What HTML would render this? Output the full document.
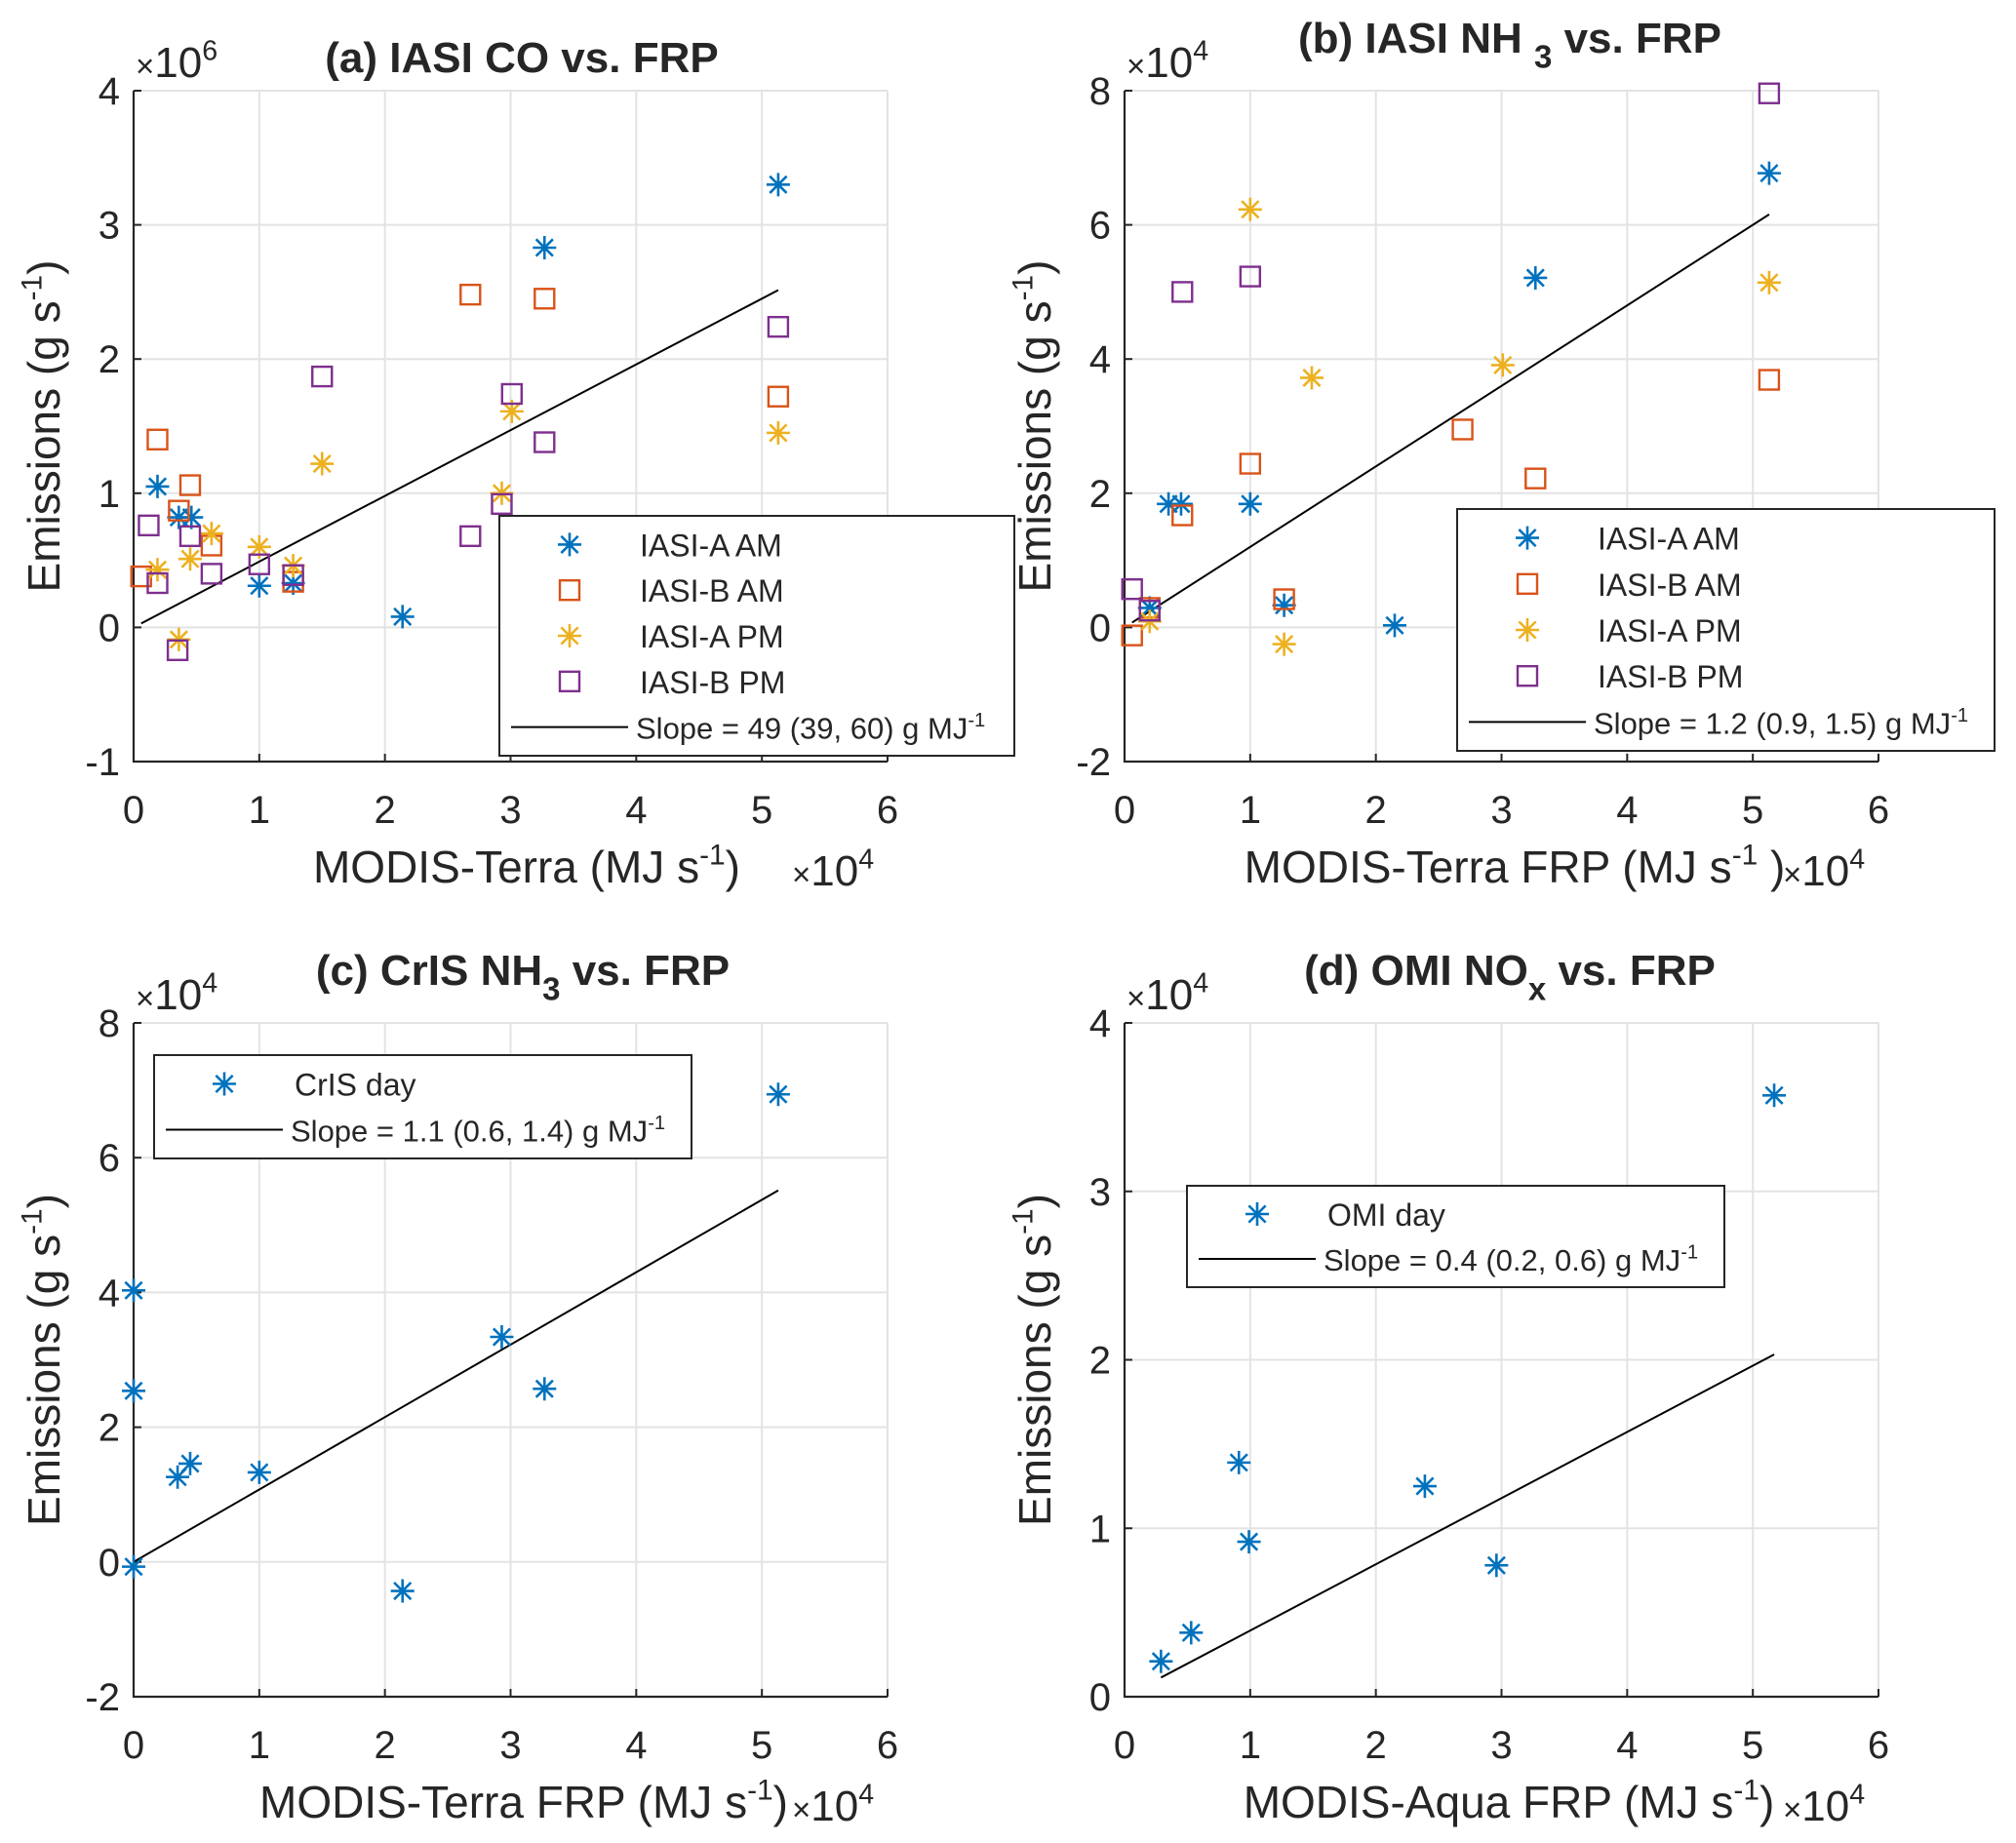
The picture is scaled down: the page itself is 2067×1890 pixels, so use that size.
<!DOCTYPE html>
<html><head><meta charset="utf-8"><style>
body{margin:0;background:#fff}
svg{display:block}
text{font-family:"Liberation Sans",Arial,sans-serif;fill:#262626}
</style></head><body>
<svg id="fig" width="2067" height="1890" viewBox="0 0 2067 1890" xmlns="http://www.w3.org/2000/svg"></svg>
<script>
// ---- Panel (a) data: x in 1e4 MJ/s, y in 1e6 g/s
const aAAMx=[0.19,0.36,0.46,1.0,1.27,2.14,3.27,5.13];
const aAAMy=[1.05,0.82,0.82,0.31,0.33,0.08,2.83,3.30];
const aBAMx=[0.06,0.19,0.36,0.45,0.62,1.27,2.68,3.27,5.13];
const aBAMy=[0.38,1.40,0.87,1.06,0.61,0.34,2.48,2.45,1.72];
const aAPMx=[0.19,0.36,0.45,0.62,1.0,1.27,1.50,2.93,3.01,5.13];
const aAPMy=[0.43,-0.09,0.51,0.70,0.60,0.46,1.22,1.0,1.61,1.45];
const aBPMx=[0.12,0.19,0.35,0.45,0.62,1.0,1.27,1.50,2.68,2.93,3.01,3.27,5.13];
const aBPMy=[0.76,0.33,-0.17,0.68,0.40,0.47,0.39,1.87,0.68,0.92,1.74,1.38,2.24];
const aFit=[0.06,5.13,0.49];
// ---- Panel (b) data: y in 1e4
const bAAMx=[0.2,0.35,0.45,1.0,1.27,2.15,3.27,5.13];
const bAAMy=[0.29,1.84,1.84,1.84,0.33,0.03,5.21,6.77];
const bBAMx=[0.06,0.2,0.46,1.0,1.27,2.69,3.27,5.13];
const bBAMy=[-0.12,0.29,1.67,2.44,0.42,2.95,2.22,3.69];
const bAPMx=[0.2,1.0,1.27,1.49,3.01,5.13];
const bAPMy=[0.09,6.23,-0.25,3.72,3.91,5.14];
const bBPMx=[0.06,0.2,0.46,1.0,5.13];
const bBPMy=[0.57,0.25,5.0,5.23,7.96];
const bFit=[0.06,5.13,1.2];
// ---- Panel (c)
const cX=[0,0,0,0.35,0.45,1.0,2.14,2.93,3.27,5.13];
const cY=[4.03,2.54,-0.07,1.26,1.46,1.33,-0.43,3.34,2.57,6.94];
const cFit=[0.0,5.13,1.075];
// ---- Panel (d)
const dX=[0.29,0.53,0.91,0.99,2.39,2.96,5.17];
const dY=[0.21,0.38,1.39,0.92,1.25,0.78,3.57];
const dFit=[0.29,5.17,0.393];
// ticks
const xTicks=[0,1,2,3,4,5,6];
const aYTicks=[-1,0,1,2,3,4];
const bYTicks=[-2,0,2,4,6,8];
const cYTicks=[-2,0,2,4,6,8];
const dYTicks=[0,1,2,3,4];

const NS="http://www.w3.org/2000/svg";
const svg=document.getElementById('fig');
const C={blue:"#0072BD",orange:"#D95319",yellow:"#EDB120",purple:"#7E2F8E"};
function el(tag,attrs,parent){const e=document.createElementNS(NS,tag);for(const k in attrs)e.setAttribute(k,attrs[k]);(parent||svg).appendChild(e);return e;}
function txt(parent,x,y,parts,size,anchor,weight){
  const t=el('text',{x:x,y:y,'font-size':size,'text-anchor':anchor||'start','font-weight':weight||'normal'},parent);
  parts.forEach(p=>{const s=document.createElementNS(NS,'tspan');s.textContent=p[0];
    if(p[1]==='sup'){s.setAttribute('dy',-size*0.4);s.setAttribute('font-size',size*0.65);}
    if(p[1]==='base'){s.setAttribute('dy',size*0.4);}
    if(p[1]==='sub'){s.setAttribute('dy',size*0.35);s.setAttribute('font-size',size*0.75);}
    if(p[1]==='unsub'){s.setAttribute('dy',-size*0.35);}
    if(p[1]==='small'){s.setAttribute('font-size',size*0.75);}
    t.appendChild(s);});
  return t;}
function star(g,x,y,col){const r=12;
  return el('path',{d:`M${x-r},${y}H${x+r}M${x},${y-r}V${y+r}M${x-r*0.72},${y-r*0.72}L${x+r*0.72},${y+r*0.72}M${x-r*0.72},${y+r*0.72}L${x+r*0.72},${y-r*0.72}`,stroke:col,'stroke-width':2.6,fill:'none'},g);}
function sq(g,x,y,col){const s=20;return el('rect',{x:x-s/2,y:y-s/2,width:s,height:s,stroke:col,'stroke-width':2.4,fill:'none'},g);}

function panel(o){
  const g=el('g',{});
  
  
  const L=o.L,R=o.R,T=o.T,B=o.B,y0=o.yT[0],y1=o.yT[o.yT.length-1];
  const sx=v=>L+(v-0)/6*(R-L), sy=v=>B-(v-y0)/(y1-y0)*(B-T);
  const grid=el('g',{},g);
  
  
  xTicks.forEach(v=>{el('line',{x1:sx(v),x2:sx(v),y1:T,y2:B,stroke:'#e3e3e3','stroke-width':2},grid);});
  o.yT.forEach(v=>{el('line',{x1:L,x2:R,y1:sy(v),y2:sy(v),stroke:'#e3e3e3','stroke-width':2},grid);});
  const ax=el('path',{d:`M${L},${T}V${B}H${R}`,stroke:'#262626','stroke-width':2.2,fill:'none'},g);
  
  
  xTicks.forEach(v=>{el('line',{x1:sx(v),x2:sx(v),y1:B,y2:B-8,stroke:'#262626','stroke-width':2},g);
    const t=txt(g,sx(v),B+63,[[String(v)]],40,'middle');
    
    });
  o.yT.forEach(v=>{el('line',{x1:L,x2:L+8,y1:sy(v),y2:sy(v),stroke:'#262626','stroke-width':2},g);
    const t=txt(g,L-14,sy(v)+14,[[String(v)]],40,'end');
    
    });
  const f=o.fit;
  const fl=el('line',{x1:sx(f[0]),y1:sy(f[0]*f[2]),x2:sx(f[1]),y2:sy(f[1]*f[2]),stroke:'#000','stroke-width':2},g);
  
  
  o.series.forEach(s=>{s.x.forEach((xv,i)=>{
    const m=s.m==='s'?sq(g,sx(xv),sy(s.y[i]),s.c):star(g,sx(xv),sy(s.y[i]),s.c);
    
    });});
  const tt=txt(g,o.tx,o.ty,o.title,44,'middle','bold');
  
  
  const yl=txt(g,0,0,[["Emissions (g s"],["-1",'sup'],[")",'base']],46,'middle');
  yl.setAttribute('transform',`translate(${L-76},${(T+B)/2}) rotate(-90)`);
  
  
  const xl=txt(g,o.xlx,B+124,o.xlabel,46,'middle');
  
  
  const xe=txt(g,o.xex,B+127,[["\u00d7",'small'],["10"],["4",'sup']],44,'start');
  
  
  const ye=txt(g,L+2,T-14,[["\u00d7",'small'],["10"],[o.yexp,'sup']],44,'start');
  
  
  const lg=el('g',{},g);
  
  
  const lb=o.leg;
  el('rect',{x:lb.x,y:lb.y,width:lb.w,height:lb.h,fill:'#fff',stroke:'#262626','stroke-width':2},lg);
  const n=o.series.length+1, rh=(lb.h-12)/n;
  o.series.forEach((s,i)=>{const cy=lb.y+6+rh*(i+0.5);
    if(s.m==='s')sq(lg,lb.x+72,cy,s.c);else star(lg,lb.x+72,cy,s.c);
    const t=txt(lg,lb.x+144,cy+12,[[s.nm]],32,'start');
    
    });
  const cy=lb.y+6+rh*(n-0.5);
  el('line',{x1:lb.x+12,x2:lb.x+132,y1:cy,y2:cy,stroke:'#000','stroke-width':2},lg);
  const t=txt(lg,lb.x+140,cy+12,[[o.slope],["-1",'sup']],31,'start');
  
  
}

panel({name:'panel-a',L:137,R:910,T:93,B:781,yT:aYTicks,fit:aFit,yexp:'6',
  series:[{nm:'IASI-A AM',m:'*',c:C.blue,x:aAAMx,y:aAAMy},{nm:'IASI-B AM',m:'s',c:C.orange,x:aBAMx,y:aBAMy},
          {nm:'IASI-A PM',m:'*',c:C.yellow,x:aAPMx,y:aAPMy},{nm:'IASI-B PM',m:'s',c:C.purple,x:aBPMx,y:aBPMy}],
  title:[["(a) IASI CO vs. FRP"]],tx:535,ty:74,xlabel:[["MODIS-Terra (MJ s"],["-1",'sup'],[")",'base']],xlx:540,xex:812,
  leg:{x:512,y:529,w:528,h:246},slope:"Slope = 49 (39, 60) g MJ"});
panel({name:'panel-b',L:1153,R:1926,T:93,B:781,yT:bYTicks,fit:bFit,yexp:'4',
  series:[{nm:'IASI-A AM',m:'*',c:C.blue,x:bAAMx,y:bAAMy},{nm:'IASI-B AM',m:'s',c:C.orange,x:bBAMx,y:bBAMy},
          {nm:'IASI-A PM',m:'*',c:C.yellow,x:bAPMx,y:bAPMy},{nm:'IASI-B PM',m:'s',c:C.purple,x:bBPMx,y:bBPMy}],
  title:[["(b) IASI NH "],["3",'sub'],[" vs. FRP",'unsub']],tx:1548,ty:54,xlabel:[["MODIS-Terra FRP (MJ s"],["-1",'sup'],[" )",'base']],xlx:1553,xex:1828,
  leg:{x:1494,y:522,w:551,h:248},slope:"Slope = 1.2 (0.9, 1.5) g MJ"});
panel({name:'panel-c',L:137,R:910,T:1049,B:1740,yT:cYTicks,fit:cFit,yexp:'4',
  series:[{nm:'CrIS day',m:'*',c:C.blue,x:cX,y:cY}],
  title:[["(c) CrIS NH"],["3",'sub'],["  vs. FRP",'unsub']],tx:536,ty:1010,xlabel:[["MODIS-Terra FRP (MJ s"],["-1",'sup'],[")",'base']],xlx:537,xex:812,
  leg:{x:158,y:1082,w:551,h:106},slope:"Slope = 1.1 (0.6, 1.4) g MJ"});
panel({name:'panel-d',L:1153,R:1926,T:1049,B:1740,yT:dYTicks,fit:dFit,yexp:'4',
  series:[{nm:'OMI day',m:'*',c:C.blue,x:dX,y:dY}],
  title:[["(d) OMI NO"],["x",'sub'],["  vs. FRP",'unsub']],tx:1548,ty:1010,xlabel:[["MODIS-Aqua FRP (MJ s"],["-1",'sup'],[")",'base']],xlx:1547,xex:1828,
  leg:{x:1217,y:1216,w:551,h:104},slope:"Slope = 0.4 (0.2, 0.6) g MJ"});
</script>
</body></html>
